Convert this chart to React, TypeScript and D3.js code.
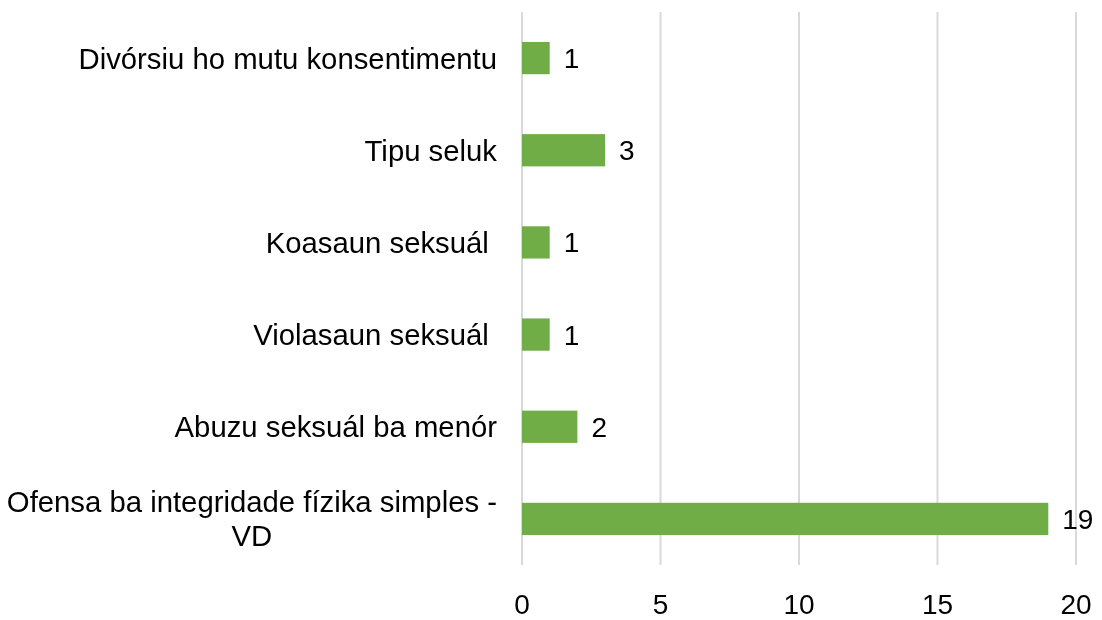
import { useEffect, useRef } from 'react';
import * as d3 from 'd3';

const categories = [
  'Divórsiu ho mutu konsentimentu',
  'Tipu seluk',
  'Koasaun seksuál ',
  'Violasaun seksuál ',
  'Abuzu seksuál ba menór',
  'Ofensa ba integridade fízika simples -\nVD',
];
const values = [1, 3, 1, 1, 2, 19];
const xTicks = [0, 5, 10, 15, 20];

export default function App() {
  const containerRef = useRef<HTMLDivElement>(null);

  useEffect(() => {
    if (!containerRef.current) return;

    d3.select(containerRef.current).selectAll('*').remove();

    const width = 1102;
    const height = 620;
    const font = '"Liberation Sans", Arial, Helvetica, sans-serif';
    const fontSize = 28;
    const catFontSize = 29.3;

    const svg = d3
      .select(containerRef.current)
      .append('svg')
      .attr('width', width)
      .attr('height', height)
      .style('display', 'block');

    const xScale = d3.scaleLinear().domain([0, 20]).range([522, 1076]);
    const yScale = d3
      .scaleBand()
      .domain(categories)
      .range([12, 565])
      .paddingInner(0.65)
      .paddingOuter(0.325);

    // Grid
    svg
      .append('g')
      .selectAll('line')
      .data(xTicks)
      .join('line')
      .attr('x1', (d) => xScale(d))
      .attr('x2', (d) => xScale(d))
      .attr('y1', 12)
      .attr('y2', 565)
      .attr('stroke', '#d9d9d9')
      .attr('stroke-width', 2);

    // Tick labels
    svg
      .append('g')
      .selectAll('text')
      .data(xTicks)
      .join('text')
      .attr('x', (d) => xScale(d))
      .attr('y', 614)
      .attr('text-anchor', 'middle')
      .attr('font-family', font)
      .attr('font-size', fontSize)
      .attr('fill', '#000')
      .text((d) => d);

    // Bars
    svg
      .append('g')
      .selectAll('rect')
      .data(categories)
      .join('rect')
      .attr('x', xScale(0))
      .attr('y', (d) => yScale(d)!)
      .attr('width', (d, i) => xScale(values[i]) - xScale(0))
      .attr('height', yScale.bandwidth())
      .attr('fill', '#70ad47');

    // Value labels
    svg
      .append('g')
      .selectAll('text')
      .data(categories)
      .join('text')
      .attr('x', (d, i) => xScale(values[i]) + 14)
      .attr('y', (d) => yScale(d)! + yScale.bandwidth() / 2 + 10)
      .attr('font-family', font)
      .attr('font-size', fontSize)
      .attr('fill', '#000')
      .text((d, i) => values[i]);

    // Category labels
    const labelRight = 497;
    categories.forEach((cat) => {
      const cy = yScale(cat)! + yScale.bandwidth() / 2;
      const lines = cat.split('\n');
      const t = svg
        .append('text')
        .attr('font-family', font)
        .attr('font-size', catFontSize)
        .attr('fill', '#000')
        .style('white-space', 'pre');
      if (lines.length === 1) {
        t.attr('x', labelRight).attr('y', cy + 10.5).attr('text-anchor', 'end').text(cat);
      } else {
        const lineH = 34;
        const top = cy + 10.5 - ((lines.length - 1) * lineH) / 2;
        const spans = lines.map((ln, k) =>
          t.append('tspan').attr('y', top + k * lineH).attr('text-anchor', 'middle').text(ln)
        );
        const w = d3.max(spans, (s) => (s.node() as SVGTSpanElement).getComputedTextLength()) || 0;
        spans.forEach((s) => s.attr('x', labelRight - w / 2));
      }
    });
  }, []);

  return <div ref={containerRef} style={{ position: 'fixed', left: 0, top: 0 }}></div>;
}
